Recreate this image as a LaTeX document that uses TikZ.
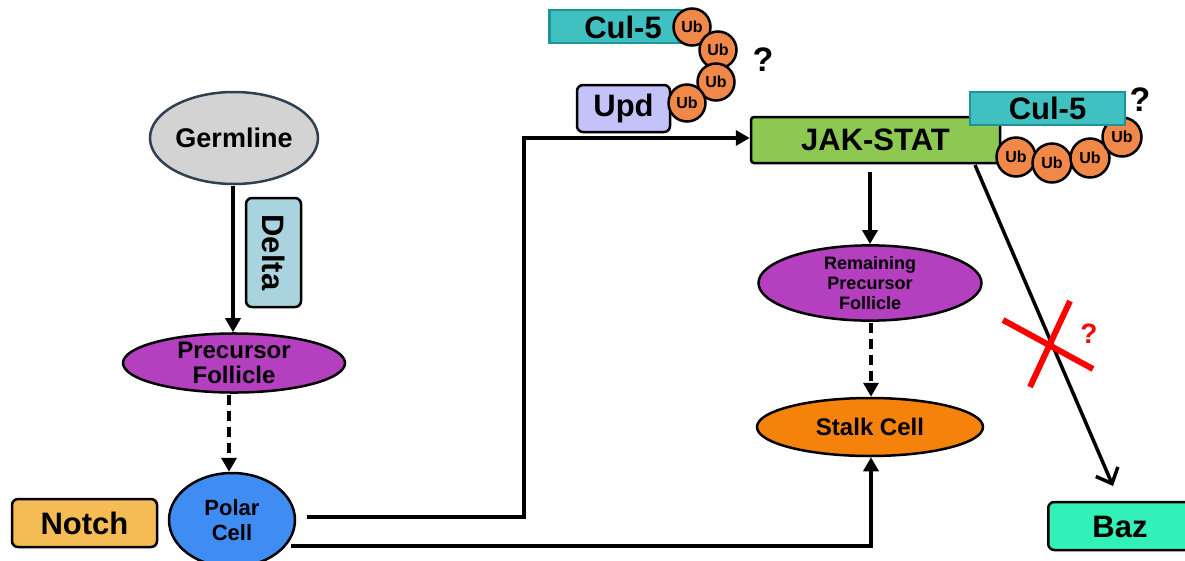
\documentclass[tikz,border=0pt]{standalone}
\usepackage{fontspec}
\setmainfont{Liberation Sans}
\usetikzlibrary{arrows.meta,shapes.geometric}
\definecolor{germ}{HTML}{D3D3D3}
\definecolor{germb}{HTML}{2F4050}
\definecolor{purp}{HTML}{B43FBF}
\definecolor{polar}{HTML}{3F8CF2}
\definecolor{notch}{HTML}{F5BC55}
\definecolor{delta}{HTML}{A9D3DF}
\definecolor{upd}{HTML}{C3C3FA}
\definecolor{cul}{HTML}{40C0C0}
\definecolor{culb}{HTML}{1E9494}
\definecolor{ub}{HTML}{F0884A}
\definecolor{jak}{HTML}{8DC853}
\definecolor{stalk}{HTML}{F5820A}
\definecolor{baz}{HTML}{33F0B8}
\tikzset{
  ell/.style={ellipse,draw=black,line width=2.5pt,inner sep=0pt,align=center,font=\bfseries\fontsize{24}{25}\selectfont},
  rbox/.style={rectangle,rounded corners=6pt,draw=black,line width=2.5pt,inner sep=0pt,align=center,font=\bfseries\fontsize{31}{33}\selectfont},
  culbox/.style={rectangle,draw=culb,fill=cul,line width=2.5pt,inner sep=0pt,font=\bfseries\fontsize{31}{33}\selectfont},
  ubc/.style={circle,draw=black,fill=ub,line width=2.5pt,minimum size=37pt,inner sep=0pt,font=\bfseries\fontsize{16}{17}\selectfont},
  conn/.style={line width=3.5pt,-{Triangle[length=14pt,width=15pt]}},
  dconn/.style={line width=3.5pt,dash pattern=on 10pt off 6pt,-{Triangle[length=14pt,width=15pt]}},
  qmark/.style={font=\bfseries\fontsize{34}{36}\selectfont}
}
\begin{document}
\begin{tikzpicture}[x=1pt,y=-1pt]
\useasboundingbox (0,0) rectangle (1185,560);
% left column
\node[ell,draw=germb,fill=germ,minimum width=168pt,minimum height=92pt,font=\bfseries\fontsize{27}{29}\selectfont] (germ) at (234,138) {Germline};
\node[ell,fill=purp,minimum width=222pt,minimum height=56pt] (pf) at (234,363) {Precursor\\Follicle};
\node[ell,fill=polar,minimum width=126pt,minimum height=94pt,font=\bfseries\fontsize{22}{25}\selectfont] (polar) at (232,520) {Polar\\Cell};
\node[rbox,fill=delta,minimum width=55pt,minimum height=109pt] (delta) at (273.5,252.5) {};
\node[font=\bfseries\fontsize{31}{33}\selectfont,rotate=-90] (deltat) at (delta.center) {Delta};
\node[rbox,fill=notch,minimum width=145pt,minimum height=48pt] (notch) at (84.5,523) {Notch};
\draw[conn] (233,186) -- (pf.north -| 233,0);
\draw[dconn] (229,395) -- (polar.north -| 229,0);
% upper middle
\node[culbox,minimum width=142pt,minimum height=33pt,anchor=west] (cul1) at (548,26.5) {};
\node[font=\bfseries\fontsize{31}{33}\selectfont] (cul1t) at (623,27) {Cul-5};
\node[rbox,fill=upd,minimum width=93pt,minimum height=47pt] (upd) at (623.5,108.5) {Upd};
\node[ubc] (u1) at (692,27) {Ub};
\node[ubc] (u2) at (718,50) {Ub};
\node[ubc] (u3) at (716,82) {Ub};
\node[ubc] (u4) at (687,103) {Ub};
\node[qmark] (q1) at (763,60) {?};
% JAK-STAT
\node[rbox,rounded corners=3pt,fill=jak,minimum width=249pt,minimum height=46pt] (jak) at (875.5,140) {JAK-STAT};
\node[ubc,minimum size=39pt] (v1) at (1016,157) {Ub};
\node[ubc,minimum size=39pt] (v2) at (1052,163) {Ub};
\node[ubc,minimum size=39pt] (v3) at (1090,158) {Ub};
\node[ubc,minimum size=39pt] (v4) at (1122,137) {Ub};
\node[culbox,minimum width=155pt,minimum height=33pt] (cul2) at (1047.5,108.5) {Cul-5};
\node[qmark] (q2) at (1140,100) {?};
% right column
\node[ell,fill=purp,minimum width=223pt,minimum height=72pt,font=\bfseries\fontsize{18}{20}\selectfont] (rpf) at (870,283) {Remaining\\Precursor\\Follicle};
\node[ell,fill=stalk,minimum width=226pt,minimum height=58pt] (stalk) at (870,427) {Stalk Cell};
\node[rbox,fill=baz,minimum width=150pt,minimum height=48pt,anchor=west] (baz) at (1047,526) {};
\node[font=\bfseries\fontsize{31}{33}\selectfont] (bazt) at (1120,527) {Baz};
\draw[conn] (870,172) -- (rpf.north -| 870,0);
\draw[dconn] (871,323) -- (stalk.north -| 871,0);
% connectors from polar cell
\coordinate (p1) at (307,517);
\coordinate (p2) at (291,546);
\draw[conn] (p1) -- (524,517) -- (524,138) -- (jak.west |- 0,138);
\draw[conn] (p2) -- (871,546) -- (stalk.south -| 871,0);
% diagonal to Baz
\coordinate (d0) at (975,165);
\coordinate (d1) at (1113,486);
\draw[line width=3.5pt,-{Straight Barb[length=13pt,width=24pt,line width=3.5pt]}] (d0) -- (d1);
% red cross
\draw[red,line width=6pt] (1003,320) -- (1093,369);
\draw[red,line width=6pt] (1070,301) -- (1030,387);
\node[red,font=\bfseries\fontsize{28}{30}\selectfont] (q3) at (1089,334) {?};
\end{tikzpicture}
\end{document}
